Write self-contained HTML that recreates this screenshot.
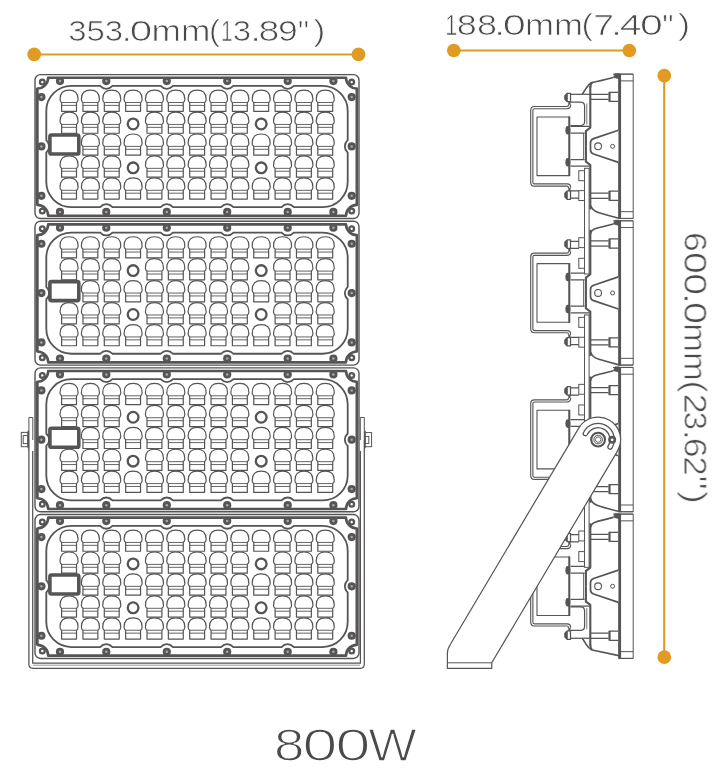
<!DOCTYPE html>
<html lang="en"><head><meta charset="utf-8"><title>800W flood light dimensions</title>
<style>html,body{margin:0;padding:0;background:#fff}svg{display:block}text{font-family:"Liberation Sans",sans-serif;fill:#4b494a;stroke:#fff;stroke-width:0.55px;paint-order:fill stroke}</style></head><body>
<svg width="726" height="784" viewBox="0 0 726 784">
<rect width="726" height="784" fill="#fff"/>
<defs>
<g id="lens" fill="#fff" stroke="#565455" stroke-width="1.2" stroke-linejoin="round">
<path d="M-7.45,21.2 V12.8 Q-7.5,12 -8.45,11.3 Q-9,10.6 -9,9 C-9,2.8 -5.8,0 0,0 C5.8,0 9,2.8 9,9 Q9,10.6 8.45,11.3 Q7.5,12 7.45,12.8 V21.2 Z"/>
<path d="M-7.45,12.4 H7.45 M-7.45,15.3 H7.45" fill="none" stroke-width="0.9"/>
</g>
<g id="screw"><circle r="4.1" fill="#565455"/><circle r="1.25" fill="#a9a7a8"/></g>
<g id="boss"><circle r="2.35" fill="#fff" stroke="#565455" stroke-width="2.3"/></g>
<g id="fmod">
<rect x="35" y="74.6" width="324" height="143.9" rx="5.5" fill="#fff" stroke="#565455" stroke-width="1.4"/>
<path d="M48.2,77.7 H346 A10.8,10.8 0 0 0 356.8,88.5 V204.9 A10.8,10.8 0 0 0 346,215.7 H48.2 A10.8,10.8 0 0 0 37.4,204.9 V88.5 A10.8,10.8 0 0 0 48.2,77.7 Z" fill="none" stroke="#565455" stroke-width="2.6" stroke-linejoin="round"/>
<path d="M36.3,88.5 V204.9" fill="none" stroke="#565455" stroke-width="1.3"/>
<use href="#boss" x="42.3" y="82.1"/>
<use href="#boss" x="351.7" y="82.1"/>
<use href="#boss" x="42.3" y="211"/>
<use href="#boss" x="351.7" y="211"/>
<use href="#screw" x="41.4" y="97.1"/>
<use href="#screw" x="351.7" y="97.1"/>
<use href="#screw" x="41.4" y="146.4"/>
<use href="#screw" x="351.7" y="146.4"/>
<use href="#screw" x="41.4" y="195.8"/>
<use href="#screw" x="351.7" y="195.8"/>
<use href="#screw" x="60" y="81.1"/>
<use href="#screw" x="60" y="211.9"/>
<use href="#screw" x="106.3" y="81.1"/>
<use href="#screw" x="106.3" y="211.9"/>
<use href="#screw" x="166.8" y="81.1"/>
<use href="#screw" x="166.8" y="211.9"/>
<use href="#screw" x="227.2" y="81.1"/>
<use href="#screw" x="227.2" y="211.9"/>
<use href="#screw" x="287.7" y="81.1"/>
<use href="#screw" x="287.7" y="211.9"/>
<use href="#screw" x="333.4" y="81.1"/>
<use href="#screw" x="333.4" y="211.9"/>
<path d="M71.3,85.9 H100.1 Q102.89,88.8 106.3,88.8 Q109.71,88.8 112.5,85.9 H160.6 Q163.39,88.8 166.8,88.8 Q170.21,88.8 173,85.9 H221 Q223.79,88.8 227.2,88.8 Q230.61,88.8 233.4,85.9 H281.5 Q284.29,88.8 287.7,88.8 Q291.11,88.8 293.9,85.9 H322.7 A25,25 0 0 1 347.7,110.9 V140.2 Q344.8,142.99 344.8,146.4 Q344.8,149.81 347.7,152.6 V182.1 A25,25 0 0 1 322.7,207.1 H293.9 Q291.11,204.2 287.7,204.2 Q284.29,204.2 281.5,207.1 H233.4 Q230.61,204.2 227.2,204.2 Q223.79,204.2 221,207.1 H173 Q170.21,204.2 166.8,204.2 Q163.39,204.2 160.6,207.1 H112.5 Q109.71,204.2 106.3,204.2 Q102.89,204.2 100.1,207.1 H71.3 A25,25 0 0 1 46.3,182.1 V152.6 Q49.2,149.81 49.2,146.4 Q49.2,142.99 46.3,140.2 V110.9 A25,25 0 0 1 71.3,85.9 Z" fill="#fff" stroke="#565455" stroke-width="1.8"/>
<use href="#lens" x="69.05" y="90.1"/>
<use href="#lens" x="90.4" y="90.1"/>
<use href="#lens" x="111.75" y="90.1"/>
<use href="#lens" x="133.1" y="90.1"/>
<use href="#lens" x="154.45" y="90.1"/>
<use href="#lens" x="175.8" y="90.1"/>
<use href="#lens" x="197.15" y="90.1"/>
<use href="#lens" x="218.5" y="90.1"/>
<use href="#lens" x="239.85" y="90.1"/>
<use href="#lens" x="261.2" y="90.1"/>
<use href="#lens" x="282.55" y="90.1"/>
<use href="#lens" x="303.9" y="90.1"/>
<use href="#lens" x="325.25" y="90.1"/>
<use href="#lens" x="69.05" y="112.05"/>
<use href="#lens" x="90.4" y="112.05"/>
<use href="#lens" x="111.75" y="112.05"/>
<circle cx="133.1" cy="123.95" r="5.35" fill="#fff" stroke="#565455" stroke-width="2.3"/>
<use href="#lens" x="154.45" y="112.05"/>
<use href="#lens" x="175.8" y="112.05"/>
<use href="#lens" x="197.15" y="112.05"/>
<use href="#lens" x="218.5" y="112.05"/>
<use href="#lens" x="239.85" y="112.05"/>
<circle cx="261.2" cy="123.95" r="5.35" fill="#fff" stroke="#565455" stroke-width="2.3"/>
<use href="#lens" x="282.55" y="112.05"/>
<use href="#lens" x="303.9" y="112.05"/>
<use href="#lens" x="325.25" y="112.05"/>
<use href="#lens" x="90.4" y="134"/>
<use href="#lens" x="111.75" y="134"/>
<use href="#lens" x="133.1" y="134"/>
<use href="#lens" x="154.45" y="134"/>
<use href="#lens" x="175.8" y="134"/>
<use href="#lens" x="197.15" y="134"/>
<use href="#lens" x="218.5" y="134"/>
<use href="#lens" x="239.85" y="134"/>
<use href="#lens" x="261.2" y="134"/>
<use href="#lens" x="282.55" y="134"/>
<use href="#lens" x="303.9" y="134"/>
<use href="#lens" x="325.25" y="134"/>
<use href="#lens" x="69.05" y="155.95"/>
<use href="#lens" x="90.4" y="155.95"/>
<use href="#lens" x="111.75" y="155.95"/>
<circle cx="133.1" cy="167.85" r="5.35" fill="#fff" stroke="#565455" stroke-width="2.3"/>
<use href="#lens" x="154.45" y="155.95"/>
<use href="#lens" x="175.8" y="155.95"/>
<use href="#lens" x="197.15" y="155.95"/>
<use href="#lens" x="218.5" y="155.95"/>
<use href="#lens" x="239.85" y="155.95"/>
<circle cx="261.2" cy="167.85" r="5.35" fill="#fff" stroke="#565455" stroke-width="2.3"/>
<use href="#lens" x="282.55" y="155.95"/>
<use href="#lens" x="303.9" y="155.95"/>
<use href="#lens" x="325.25" y="155.95"/>
<use href="#lens" x="69.05" y="177.9"/>
<use href="#lens" x="90.4" y="177.9"/>
<use href="#lens" x="111.75" y="177.9"/>
<use href="#lens" x="133.1" y="177.9"/>
<use href="#lens" x="154.45" y="177.9"/>
<use href="#lens" x="175.8" y="177.9"/>
<use href="#lens" x="197.15" y="177.9"/>
<use href="#lens" x="218.5" y="177.9"/>
<use href="#lens" x="239.85" y="177.9"/>
<use href="#lens" x="261.2" y="177.9"/>
<use href="#lens" x="282.55" y="177.9"/>
<use href="#lens" x="303.9" y="177.9"/>
<use href="#lens" x="325.25" y="177.9"/>
<rect x="49.9" y="135" width="28.9" height="19" rx="1.6" fill="#fff" stroke="#565455" stroke-width="3.6"/>
</g>
</defs>
<g fill="#fff" stroke="#565455" stroke-width="1.25">
<path d="M28.9,417.5 H32.8 V451 H28.9 Z M364.3,417.5 H360.3 V451 H364.3 Z" stroke-width="1"/>
<path d="M28.9,440 V664.3 Q28.9,668.3 32.9,668.3 H360.3 Q364.3,668.3 364.3,664.3 V440" fill="#fff"/>
<path d="M32.7,451 V663.2 H360.4 V451" fill="none"/>
<path d="M33,665.2 H360" fill="none" stroke="#8e8c8d" stroke-width="0.9"/>
<g stroke-width="1">
<rect x="21.3" y="432.4" width="6.6" height="14.3"/><rect x="23.2" y="435.6" width="4.6" height="8"/>
<rect x="364.9" y="432.6" width="6.7" height="14.1"/><rect x="365.1" y="436.4" width="3.7" height="7"/>
</g>
<path d="M28.3,430.8 V448.2 M364.9,430.8 V448.2" stroke-width="1.6"/>
</g>
<use href="#fmod" y="0"/>
<use href="#fmod" y="146.65"/>
<use href="#fmod" y="293.3"/>
<use href="#fmod" y="439.95"/>
<g id="sideview">
<g fill="none" stroke="#565455" stroke-width="1.25" stroke-linejoin="round" stroke-linecap="butt">
<rect x="619.6" y="74.15" width="13.6" height="144.3" fill="#fff" stroke-width="1"/>
<path d="M619.6,73.65 V218.95" stroke-width="2.95"/>
<path d="M613,74.15 H633.2 M620,80.9 H633.2" stroke-width="1"/>
<path d="M613.3,77.4 L615.1,73.5 H619 V78.8 Z" fill="#565455" stroke-width="0.6"/>
<path d="M613.3,77.4 Q601,80.6 592.2,82.5" stroke-width="1.6"/>
<path d="M592.6,82.4 C587.8,83.6 586,89 582.3,94.3" stroke-width="1.6"/>
<path d="M592.2,82.6 Q590.4,84.5 590.3,88" stroke-width="1.6"/>
<path d="M590.3,86 V127.6 L585.9,131 V146.4" stroke-width="2.1"/>
<path d="M590.3,94.3 H608.5 M590.3,99.4 H608.5"/>
<path d="M609.5,92.3 H618.4 M609.5,101.4 H618.4"/>
<path d="M609.5,91.9 V101.8" stroke-width="2.2"/>
<path d="M570.5,94.3 H590.3"/>
<path d="M570.5,102.1 H581 Q584.6,102.3 584.6,106.2 V121.6 Q584.6,125.3 581,125.6 H570.5"/>
<path d="M586.8,103.5 V124.5" stroke-width="0.8"/>
<path d="M570.5,93.3 H567.2 L564.9,95.6 V99.4 L567.2,101.7 H570.5 Z" fill="#fff"/>
<path d="M567.8,93.3 L564.8,95.6 V99.4 L567.8,101.7 Z" fill="#565455" stroke="none"/>
<path d="M570.5,126.4 H589.6 M570.5,133.1 H584.6"/>
<path d="M583.6,133.1 V146.4" stroke-width="0.9"/>
<ellipse cx="567.9" cy="130.3" rx="2.5" ry="4.3" fill="#565455" stroke="none"/>
<path d="M569.4,101.5 V106" stroke-width="2.2"/>
<path d="M619,218.45 H633.2 M620,211.7 H633.2" stroke-width="1"/>
<path d="M590.6,205.5 Q592,210.6 599,212.7 Q609,215.7 619,218.2" stroke-width="1.6"/>
<path d="M590.3,209.4 V165 L585.9,161.6 V146.2" stroke-width="2.1"/>
<path d="M590.3,198.3 H608.5 M590.3,193.2 H608.5"/>
<path d="M609.5,200.3 H618.4 M609.5,191.2 H618.4"/>
<path d="M609.5,200.7 V190.8" stroke-width="2.2"/>
<path d="M570.5,198 H579 M570.5,190.8 H579"/>
<path d="M570.5,199.3 H567.2 L564.9,197 V193.2 L567.2,190.9 H570.5 Z" fill="#fff"/>
<path d="M567.8,199.3 L564.8,197 V193.2 L567.8,190.9 Z" fill="#565455" stroke="none"/>
<path d="M570.5,166.2 H589.6 M570.5,159.5 H584.6"/>
<path d="M583.6,159.5 V146.2" stroke-width="0.9"/>
<ellipse cx="567.9" cy="162.3" rx="2.5" ry="4.3" fill="#565455" stroke="none"/>
<path d="M569.4,191.1 V186.6" stroke-width="2.2"/>
<path d="M569.6,104.8 Q569.6,107.6 567,107.6 H534.4 Q531.8,107.6 531.8,110.2 V182.4 Q531.8,185 534.4,185 H567 Q569.6,185 569.6,187.8" stroke-width="3.3"/>
<path d="M569.6,104.8 Q569.6,107.6 567,107.6 H534.4 Q531.8,107.6 531.8,110.2 V182.4 Q531.8,185 534.4,185 H567 Q569.6,185 569.6,187.8" stroke="#fff" stroke-width="1.05"/>
<rect x="537" y="117" width="32.4" height="58.6" stroke-width="1.1"/>
<path d="M569.3,116.5 V176.1" stroke-width="2"/>
<path d="M618.4,130.2 L593.6,138.6 Q590.5,139.8 590.5,142.6 V150 Q590.5,152.8 593.6,154 L618.4,162.4" fill="#fff" stroke-width="1.7"/>
<circle cx="598.1" cy="146.3" r="3.4" stroke-width="1.1"/>
<circle cx="612.6" cy="146.3" r="2" stroke-width="1"/>
</g>
<g fill="none" stroke="#565455" stroke-width="1.25" stroke-linejoin="round" stroke-linecap="butt">
<rect x="619.6" y="220.8" width="13.6" height="144.3" fill="#fff" stroke-width="1"/>
<path d="M619.6,220.3 V365.6" stroke-width="2.95"/>
<path d="M613,220.8 H633.2 M620,227.55 H633.2" stroke-width="1"/>
<path d="M613.3,224.05 L615.1,220.15 H619 V225.45 Z" fill="#565455" stroke-width="0.6"/>
<path d="M613.3,224.05 Q601,227.05 595,228.85 Q591.2,230.25 590.5,234.15" stroke-width="1.6"/>
<path d="M590.3,229.85 V274.25 L585.9,277.65 V293.05" stroke-width="2.1"/>
<path d="M590.3,240.95 H608.5 M590.3,246.05 H608.5"/>
<path d="M609.5,238.95 H618.4 M609.5,248.05 H618.4"/>
<path d="M609.5,238.55 V248.45" stroke-width="2.2"/>
<path d="M570.5,241.25 H579 M570.5,248.45 H579"/>
<path d="M570.5,239.95 H567.2 L564.9,242.25 V246.05 L567.2,248.35 H570.5 Z" fill="#fff"/>
<path d="M567.8,239.95 L564.8,242.25 V246.05 L567.8,248.35 Z" fill="#565455" stroke="none"/>
<path d="M570.5,273.05 H589.6 M570.5,279.75 H584.6"/>
<path d="M583.6,279.75 V293.05" stroke-width="0.9"/>
<ellipse cx="567.9" cy="276.95" rx="2.5" ry="4.3" fill="#565455" stroke="none"/>
<path d="M569.4,248.15 V252.65" stroke-width="2.2"/>
<path d="M619,365.1 H633.2 M620,358.35 H633.2" stroke-width="1"/>
<path d="M590.6,352.15 Q592,357.25 599,359.35 Q609,362.35 619,364.85" stroke-width="1.6"/>
<path d="M590.3,356.05 V311.65 L585.9,308.25 V292.85" stroke-width="2.1"/>
<path d="M590.3,344.95 H608.5 M590.3,339.85 H608.5"/>
<path d="M609.5,346.95 H618.4 M609.5,337.85 H618.4"/>
<path d="M609.5,347.35 V337.45" stroke-width="2.2"/>
<path d="M570.5,344.65 H579 M570.5,337.45 H579"/>
<path d="M570.5,345.95 H567.2 L564.9,343.65 V339.85 L567.2,337.55 H570.5 Z" fill="#fff"/>
<path d="M567.8,345.95 L564.8,343.65 V339.85 L567.8,337.55 Z" fill="#565455" stroke="none"/>
<path d="M570.5,312.85 H589.6 M570.5,306.15 H584.6"/>
<path d="M583.6,306.15 V292.85" stroke-width="0.9"/>
<ellipse cx="567.9" cy="308.95" rx="2.5" ry="4.3" fill="#565455" stroke="none"/>
<path d="M569.4,337.75 V333.25" stroke-width="2.2"/>
<path d="M569.6,251.45 Q569.6,254.25 567,254.25 H534.4 Q531.8,254.25 531.8,256.85 V329.05 Q531.8,331.65 534.4,331.65 H567 Q569.6,331.65 569.6,334.45" stroke-width="3.3"/>
<path d="M569.6,251.45 Q569.6,254.25 567,254.25 H534.4 Q531.8,254.25 531.8,256.85 V329.05 Q531.8,331.65 534.4,331.65 H567 Q569.6,331.65 569.6,334.45" stroke="#fff" stroke-width="1.05"/>
<rect x="537" y="263.65" width="32.4" height="58.6" stroke-width="1.1"/>
<path d="M569.3,263.15 V322.75" stroke-width="2"/>
<path d="M618.4,276.85 L593.6,285.25 Q590.5,286.45 590.5,289.25 V296.65 Q590.5,299.45 593.6,300.65 L618.4,309.05" fill="#fff" stroke-width="1.7"/>
<circle cx="598.1" cy="292.95" r="3.4" stroke-width="1.1"/>
<circle cx="612.6" cy="292.95" r="2" stroke-width="1"/>
</g>
<g fill="none" stroke="#565455" stroke-width="1.25" stroke-linejoin="round" stroke-linecap="butt">
<rect x="619.6" y="367.45" width="13.6" height="144.3" fill="#fff" stroke-width="1"/>
<path d="M619.6,366.95 V512.25" stroke-width="2.95"/>
<path d="M613,367.45 H633.2 M620,374.2 H633.2" stroke-width="1"/>
<path d="M613.3,370.7 L615.1,366.8 H619 V372.1 Z" fill="#565455" stroke-width="0.6"/>
<path d="M613.3,370.7 Q601,373.7 595,375.5 Q591.2,376.9 590.5,380.8" stroke-width="1.6"/>
<path d="M590.3,376.5 V420.9 L585.9,424.3 V439.7" stroke-width="2.1"/>
<path d="M590.3,387.6 H608.5 M590.3,392.7 H608.5"/>
<path d="M609.5,385.6 H618.4 M609.5,394.7 H618.4"/>
<path d="M609.5,385.2 V395.1" stroke-width="2.2"/>
<path d="M570.5,387.9 H579 M570.5,395.1 H579"/>
<path d="M570.5,386.6 H567.2 L564.9,388.9 V392.7 L567.2,395 H570.5 Z" fill="#fff"/>
<path d="M567.8,386.6 L564.8,388.9 V392.7 L567.8,395 Z" fill="#565455" stroke="none"/>
<path d="M570.5,419.7 H589.6 M570.5,426.4 H584.6"/>
<path d="M583.6,426.4 V439.7" stroke-width="0.9"/>
<ellipse cx="567.9" cy="423.6" rx="2.5" ry="4.3" fill="#565455" stroke="none"/>
<path d="M569.4,394.8 V399.3" stroke-width="2.2"/>
<path d="M619,511.75 H633.2 M620,505 H633.2" stroke-width="1"/>
<path d="M590.6,498.8 Q592,503.9 599,506 Q609,509 619,511.5" stroke-width="1.6"/>
<path d="M590.3,502.7 V458.3 L585.9,454.9 V439.5" stroke-width="2.1"/>
<path d="M590.3,491.6 H608.5 M590.3,486.5 H608.5"/>
<path d="M609.5,493.6 H618.4 M609.5,484.5 H618.4"/>
<path d="M609.5,494 V484.1" stroke-width="2.2"/>
<path d="M570.5,491.3 H579 M570.5,484.1 H579"/>
<path d="M570.5,492.6 H567.2 L564.9,490.3 V486.5 L567.2,484.2 H570.5 Z" fill="#fff"/>
<path d="M567.8,492.6 L564.8,490.3 V486.5 L567.8,484.2 Z" fill="#565455" stroke="none"/>
<path d="M570.5,459.5 H589.6 M570.5,452.8 H584.6"/>
<path d="M583.6,452.8 V439.5" stroke-width="0.9"/>
<ellipse cx="567.9" cy="455.6" rx="2.5" ry="4.3" fill="#565455" stroke="none"/>
<path d="M569.4,484.4 V479.9" stroke-width="2.2"/>
<path d="M569.6,398.1 Q569.6,400.9 567,400.9 H534.4 Q531.8,400.9 531.8,403.5 V475.7 Q531.8,478.3 534.4,478.3 H567 Q569.6,478.3 569.6,481.1" stroke-width="3.3"/>
<path d="M569.6,398.1 Q569.6,400.9 567,400.9 H534.4 Q531.8,400.9 531.8,403.5 V475.7 Q531.8,478.3 534.4,478.3 H567 Q569.6,478.3 569.6,481.1" stroke="#fff" stroke-width="1.05"/>
<rect x="537" y="410.3" width="32.4" height="58.6" stroke-width="1.1"/>
<path d="M569.3,409.8 V469.4" stroke-width="2"/>
<path d="M618.4,423.5 L593.6,431.9 Q590.5,433.1 590.5,435.9 V443.3 Q590.5,446.1 593.6,447.3 L618.4,455.7" fill="#fff" stroke-width="1.7"/>
<circle cx="598.1" cy="439.6" r="3.4" stroke-width="1.1"/>
<circle cx="612.6" cy="439.6" r="2" stroke-width="1"/>
</g>
<g fill="none" stroke="#565455" stroke-width="1.25" stroke-linejoin="round" stroke-linecap="butt">
<rect x="619.6" y="514.1" width="13.6" height="144.3" fill="#fff" stroke-width="1"/>
<path d="M619.6,513.6 V658.9" stroke-width="2.95"/>
<path d="M613,514.1 H633.2 M620,520.85 H633.2" stroke-width="1"/>
<path d="M613.3,517.35 L615.1,513.45 H619 V518.75 Z" fill="#565455" stroke-width="0.6"/>
<path d="M613.3,517.35 Q601,520.35 595,522.15 Q591.2,523.55 590.5,527.45" stroke-width="1.6"/>
<path d="M590.3,523.15 V567.55 L585.9,570.95 V586.35" stroke-width="2.1"/>
<path d="M590.3,534.25 H608.5 M590.3,539.35 H608.5"/>
<path d="M609.5,532.25 H618.4 M609.5,541.35 H618.4"/>
<path d="M609.5,531.85 V541.75" stroke-width="2.2"/>
<path d="M570.5,534.55 H579 M570.5,541.75 H579"/>
<path d="M570.5,533.25 H567.2 L564.9,535.55 V539.35 L567.2,541.65 H570.5 Z" fill="#fff"/>
<path d="M567.8,533.25 L564.8,535.55 V539.35 L567.8,541.65 Z" fill="#565455" stroke="none"/>
<path d="M570.5,566.35 H589.6 M570.5,573.05 H584.6"/>
<path d="M583.6,573.05 V586.35" stroke-width="0.9"/>
<ellipse cx="567.9" cy="570.25" rx="2.5" ry="4.3" fill="#565455" stroke="none"/>
<path d="M569.4,541.45 V545.95" stroke-width="2.2"/>
<path d="M619,658.4 H633.2 M620,651.65 H633.2" stroke-width="1"/>
<path d="M618.8,655.65 Q601,651.95 592.2,650.05" stroke-width="1.6"/>
<path d="M592.6,650.15 C587.8,648.95 586,643.55 582.3,638.25" stroke-width="1.6"/>
<path d="M592.2,649.95 Q590.4,648.05 590.3,644.55" stroke-width="1.6"/>
<path d="M590.3,646.55 V604.95 L585.9,601.55 V586.15" stroke-width="2.1"/>
<path d="M590.3,638.25 H608.5 M590.3,633.15 H608.5"/>
<path d="M609.5,640.25 H618.4 M609.5,631.15 H618.4"/>
<path d="M609.5,640.65 V630.75" stroke-width="2.2"/>
<path d="M570.5,638.25 H590.3"/>
<path d="M570.5,630.45 H581 Q584.6,630.25 584.6,626.35 V610.95 Q584.6,607.25 581,606.95 H570.5"/>
<path d="M586.8,629.05 V608.05" stroke-width="0.8"/>
<path d="M570.5,639.25 H567.2 L564.9,636.95 V633.15 L567.2,630.85 H570.5 Z" fill="#fff"/>
<path d="M567.8,639.25 L564.8,636.95 V633.15 L567.8,630.85 Z" fill="#565455" stroke="none"/>
<path d="M570.5,606.15 H589.6 M570.5,599.45 H584.6"/>
<path d="M583.6,599.45 V586.15" stroke-width="0.9"/>
<ellipse cx="567.9" cy="602.25" rx="2.5" ry="4.3" fill="#565455" stroke="none"/>
<path d="M569.4,631.05 V626.55" stroke-width="2.2"/>
<path d="M569.6,544.75 Q569.6,547.55 567,547.55 H534.4 Q531.8,547.55 531.8,550.15 V622.35 Q531.8,624.95 534.4,624.95 H567 Q569.6,624.95 569.6,627.75" stroke-width="3.3"/>
<path d="M569.6,544.75 Q569.6,547.55 567,547.55 H534.4 Q531.8,547.55 531.8,550.15 V622.35 Q531.8,624.95 534.4,624.95 H567 Q569.6,624.95 569.6,627.75" stroke="#fff" stroke-width="1.05"/>
<rect x="537" y="556.95" width="32.4" height="58.6" stroke-width="1.1"/>
<path d="M569.3,556.45 V616.05" stroke-width="2"/>
<path d="M618.4,570.15 L593.6,578.55 Q590.5,579.75 590.5,582.55 V589.95 Q590.5,592.75 593.6,593.95 L618.4,602.35" fill="#fff" stroke-width="1.7"/>
<circle cx="598.1" cy="586.25" r="3.4" stroke-width="1.1"/>
<circle cx="612.6" cy="586.25" r="2" stroke-width="1"/>
</g>
<g fill="#fff" stroke="#565455" stroke-width="1">
<rect x="584.5" y="168.3" width="4.6" height="105.7"/>
<rect x="578.8" y="170.7" width="5.7" height="10"/>
<rect x="578.8" y="190.6" width="5.7" height="9.9"/>
<rect x="578.8" y="237.7" width="5.7" height="9.9"/>
<rect x="578.8" y="258.3" width="5.7" height="10"/>
</g>
<g fill="#fff" stroke="#565455" stroke-width="1">
<rect x="584.5" y="314.95" width="4.6" height="105.7"/>
<rect x="578.8" y="317.35" width="5.7" height="10"/>
<rect x="578.8" y="337.25" width="5.7" height="9.9"/>
<rect x="578.8" y="384.35" width="5.7" height="9.9"/>
<rect x="578.8" y="404.95" width="5.7" height="10"/>
</g>
<g fill="#fff" stroke="#565455" stroke-width="1">
<rect x="584.5" y="461.6" width="4.6" height="105.7"/>
<rect x="578.8" y="464" width="5.7" height="10"/>
<rect x="578.8" y="483.9" width="5.7" height="9.9"/>
<rect x="578.8" y="531" width="5.7" height="9.9"/>
<rect x="578.8" y="551.6" width="5.7" height="10"/>
</g>
<path d="M578.75,428.11 A22.5,22.5 0 0 1 617.45,451.09 L491.74,662.8 V668.4 H447.4 V653 Q447.4,649 450.57,644 Z" fill="#fff" stroke="#565455" stroke-width="1.2" stroke-linejoin="round"/>
<path d="M447.4,662.8 H491.74" fill="none" stroke="#565455" stroke-width="1"/>
<g fill="none" stroke="#565455">
<circle cx="598.1" cy="439.6" r="6.9" stroke-width="2.1" fill="#fff"/>
<circle cx="598.1" cy="439.6" r="4.3" stroke-width="1"/>
<polygon points="601,439.6 599.55,442.11 596.65,442.11 595.2,439.6 596.65,437.09 599.55,437.09" stroke-width="0.9"/>
<path d="M583.42,432.75 A16.2,16.2 0 1 1 611.84,448.18 A2.15,2.15 0 0 1 608.19,445.91 A11.9,11.9 0 1 0 587.31,434.57 A2.15,2.15 0 0 1 583.42,432.75 Z" stroke-width="1.3" fill="#fff"/>
<circle cx="612.15" cy="439.85" r="2.7" stroke-width="2.6" fill="#fff"/>
</g>
</g>
<g stroke="#E19A22" stroke-width="2.05" fill="#E19A22">
<path d="M34.2,54.4 H358.5 M453.8,50.5 H629.3 M664.2,75.7 V657.2" fill="none"/>
</g>
<g fill="#E19A22">
<circle cx="34.2" cy="54.4" r="6.85"/>
<circle cx="358.5" cy="54.4" r="6.85"/>
<circle cx="453.8" cy="50.5" r="6.85"/>
<circle cx="629.3" cy="50.5" r="6.85"/>
<circle cx="664.3" cy="75.7" r="6.85"/>
<circle cx="664.3" cy="657.2" r="6.85"/>
</g>
<g opacity="0.999">
<text font-size="30" style="stroke-width:0.7px" y="41.3"><tspan x="68.2" textLength="54.79" lengthAdjust="spacingAndGlyphs">353</tspan><tspan x="121.69" textLength="9.92" lengthAdjust="spacingAndGlyphs">.</tspan><tspan x="129.87" textLength="22.45" lengthAdjust="spacingAndGlyphs">0</tspan><tspan x="151.6" textLength="58.88" lengthAdjust="spacingAndGlyphs">mm</tspan><tspan x="209.12" textLength="10.93" lengthAdjust="spacingAndGlyphs">(</tspan><tspan x="220.96" textLength="11.61" lengthAdjust="spacingAndGlyphs">1</tspan><tspan x="232.8" textLength="18.3" lengthAdjust="spacingAndGlyphs">3</tspan><tspan x="250.3" textLength="10.8" lengthAdjust="spacingAndGlyphs">.</tspan><tspan x="258.42" textLength="20.86" lengthAdjust="spacingAndGlyphs">8</tspan><tspan x="278.09" textLength="19.75" lengthAdjust="spacingAndGlyphs">9</tspan><tspan x="297.88" textLength="11.44" lengthAdjust="spacingAndGlyphs">&quot;</tspan><tspan x="313.54" textLength="11.81" lengthAdjust="spacingAndGlyphs">)</tspan></text>
<text font-size="30" style="stroke-width:0.7px" y="35.3"><tspan x="445.19" textLength="12.13" lengthAdjust="spacingAndGlyphs">1</tspan><tspan x="456.89" textLength="40.03" lengthAdjust="spacingAndGlyphs">88</tspan><tspan x="494.3" textLength="10.8" lengthAdjust="spacingAndGlyphs">.</tspan><tspan x="502.73" textLength="23.04" lengthAdjust="spacingAndGlyphs">0</tspan><tspan x="524.94" textLength="58.01" lengthAdjust="spacingAndGlyphs">mm</tspan><tspan x="581.55" textLength="11.3" lengthAdjust="spacingAndGlyphs">(</tspan><tspan x="593.24" textLength="20.68" lengthAdjust="spacingAndGlyphs">7</tspan><tspan x="610.91" textLength="11.09" lengthAdjust="spacingAndGlyphs">.</tspan><tspan x="619.65" textLength="21.74" lengthAdjust="spacingAndGlyphs">4</tspan><tspan x="640.05" textLength="22.8" lengthAdjust="spacingAndGlyphs">0</tspan><tspan x="662.3" textLength="11.31" lengthAdjust="spacingAndGlyphs">&quot;</tspan><tspan x="677.94" textLength="12.18" lengthAdjust="spacingAndGlyphs">)</tspan></text>
<text font-size="31.9" style="stroke-width:0.7px" transform="translate(684.4 0) rotate(90)" y="0"><tspan x="231.93" textLength="19.89" lengthAdjust="spacingAndGlyphs">6</tspan><tspan x="252.01" textLength="21.87" lengthAdjust="spacingAndGlyphs">0</tspan><tspan x="273.31" textLength="21.87" lengthAdjust="spacingAndGlyphs">0</tspan><tspan x="292.81" textLength="11.38" lengthAdjust="spacingAndGlyphs">.</tspan><tspan x="302" textLength="22.11" lengthAdjust="spacingAndGlyphs">0</tspan><tspan x="323.26" textLength="57.57" lengthAdjust="spacingAndGlyphs">mm</tspan><tspan x="380.5" textLength="12.06" lengthAdjust="spacingAndGlyphs">(</tspan><tspan x="393.61" textLength="20.39" lengthAdjust="spacingAndGlyphs">2</tspan><tspan x="411.57" textLength="18.65" lengthAdjust="spacingAndGlyphs">3</tspan><tspan x="429.4" textLength="10.8" lengthAdjust="spacingAndGlyphs">.</tspan><tspan x="437.72" textLength="20.01" lengthAdjust="spacingAndGlyphs">6</tspan><tspan x="456.28" textLength="19.53" lengthAdjust="spacingAndGlyphs">2</tspan><tspan x="475.44" textLength="14.33" lengthAdjust="spacingAndGlyphs">&quot;</tspan><tspan x="490.92" textLength="12.94" lengthAdjust="spacingAndGlyphs">)</tspan></text>
<text font-size="46.3" style="stroke-width:1.3px" y="761"><tspan x="273.98" textLength="30.34" lengthAdjust="spacingAndGlyphs">8</tspan><tspan x="302.61" textLength="34.79" lengthAdjust="spacingAndGlyphs">0</tspan><tspan x="335.6" textLength="34.9" lengthAdjust="spacingAndGlyphs">0</tspan><tspan x="368.22" textLength="48.5" lengthAdjust="spacingAndGlyphs">W</tspan></text>
</g>
</svg></body></html>
